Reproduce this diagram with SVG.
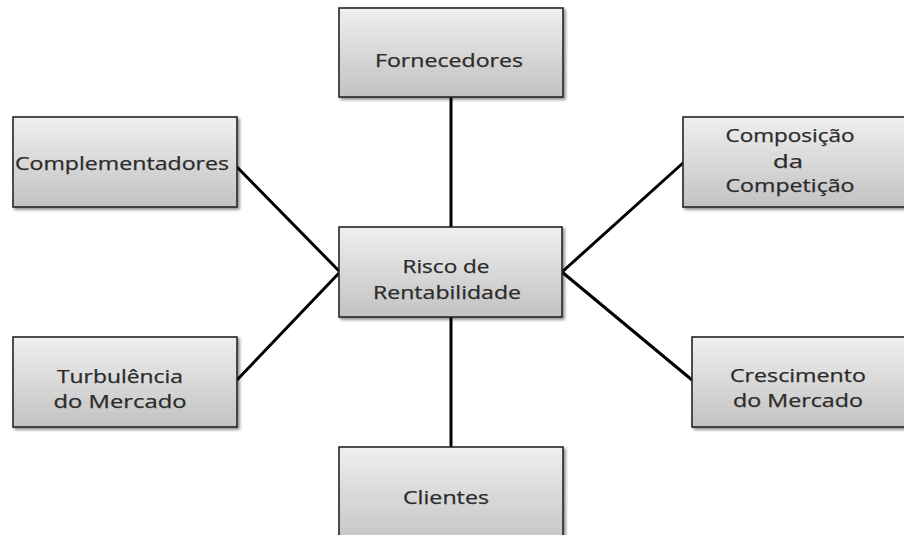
<svg xmlns="http://www.w3.org/2000/svg" width="904" height="535" viewBox="0 0 904 535">
  <defs>
    <linearGradient id="boxFill" x1="0" y1="0" x2="0" y2="1">
      <stop offset="0" stop-color="#efefef"/>
      <stop offset="1" stop-color="#c2c2c2"/>
    </linearGradient>
    <filter id="shadow" x="-10%" y="-10%" width="130%" height="130%">
      <feGaussianBlur in="SourceAlpha" stdDeviation="1.5"/>
      <feOffset dx="2" dy="2" result="b"/>
      <feComponentTransfer><feFuncA type="linear" slope="0.45"/></feComponentTransfer>
      <feMerge><feMergeNode/><feMergeNode in="SourceGraphic"/></feMerge>
    </filter>
  </defs>
  <style>
    .box { fill: url(#boxFill); stroke: #262626; stroke-width: 1.6; filter: url(#shadow); }
    .lbl { font-family: "Open Sans", "Noto Sans", "Liberation Sans", sans-serif; font-size: 17.5px; fill: #2b2b2b; stroke: #2b2b2b; stroke-width: 0.25; text-anchor: middle; }
    .link { stroke: #000000; stroke-width: 3; fill: none; stroke-linecap: round; }
  </style>
  <rect width="904" height="535" fill="#ffffff"/>

  <g id="connectors">
    <line class="link" x1="451" y1="97" x2="451" y2="227"/>
    <line class="link" x1="451" y1="317" x2="451" y2="447"/>
    <line class="link" x1="237" y1="167" x2="340" y2="272"/>
    <line class="link" x1="237" y1="380" x2="340" y2="272"/>
    <line class="link" x1="683" y1="163" x2="562" y2="272"/>
    <line class="link" x1="692" y1="380" x2="562" y2="272"/>
  </g>

  <g id="fornecedores">
    <rect class="box" x="339" y="8" width="224" height="89"/>
    <text class="lbl" x="449" y="67" textLength="148" lengthAdjust="spacingAndGlyphs">Fornecedores</text>
  </g>

  <g id="complementadores">
    <rect class="box" x="13" y="117" width="224" height="90"/>
    <text class="lbl" x="122" y="170" textLength="214" lengthAdjust="spacingAndGlyphs">Complementadores</text>
  </g>

  <g id="risco-rentabilidade">
    <rect class="box" x="339" y="227" width="223" height="90"/>
    <text class="lbl" x="446" y="273" textLength="87" lengthAdjust="spacingAndGlyphs">Risco de</text>
    <text class="lbl" x="447" y="299" textLength="148" lengthAdjust="spacingAndGlyphs">Rentabilidade</text>
  </g>

  <g id="composicao-competicao">
    <rect class="box" x="683" y="117" width="226" height="90"/>
    <text class="lbl" x="790" y="142" textLength="129" lengthAdjust="spacingAndGlyphs">Composição</text>
    <text class="lbl" x="788" y="168" textLength="30" lengthAdjust="spacingAndGlyphs">da</text>
    <text class="lbl" x="790" y="192" textLength="129" lengthAdjust="spacingAndGlyphs">Competição</text>
  </g>

  <g id="turbulencia-mercado">
    <rect class="box" x="13" y="337" width="224" height="90"/>
    <text class="lbl" x="120" y="383" textLength="126" lengthAdjust="spacingAndGlyphs">Turbulência</text>
    <text class="lbl" x="120" y="408" textLength="133" lengthAdjust="spacingAndGlyphs">do Mercado</text>
  </g>

  <g id="crescimento-mercado">
    <rect class="box" x="692" y="337" width="226" height="90"/>
    <text class="lbl" x="798" y="382" textLength="136" lengthAdjust="spacingAndGlyphs">Crescimento</text>
    <text class="lbl" x="798" y="407" textLength="130" lengthAdjust="spacingAndGlyphs">do Mercado</text>
  </g>

  <g id="clientes">
    <rect class="box" x="339" y="447" width="224" height="100"/>
    <text class="lbl" x="446" y="504" textLength="86" lengthAdjust="spacingAndGlyphs">Clientes</text>
  </g>
</svg>
